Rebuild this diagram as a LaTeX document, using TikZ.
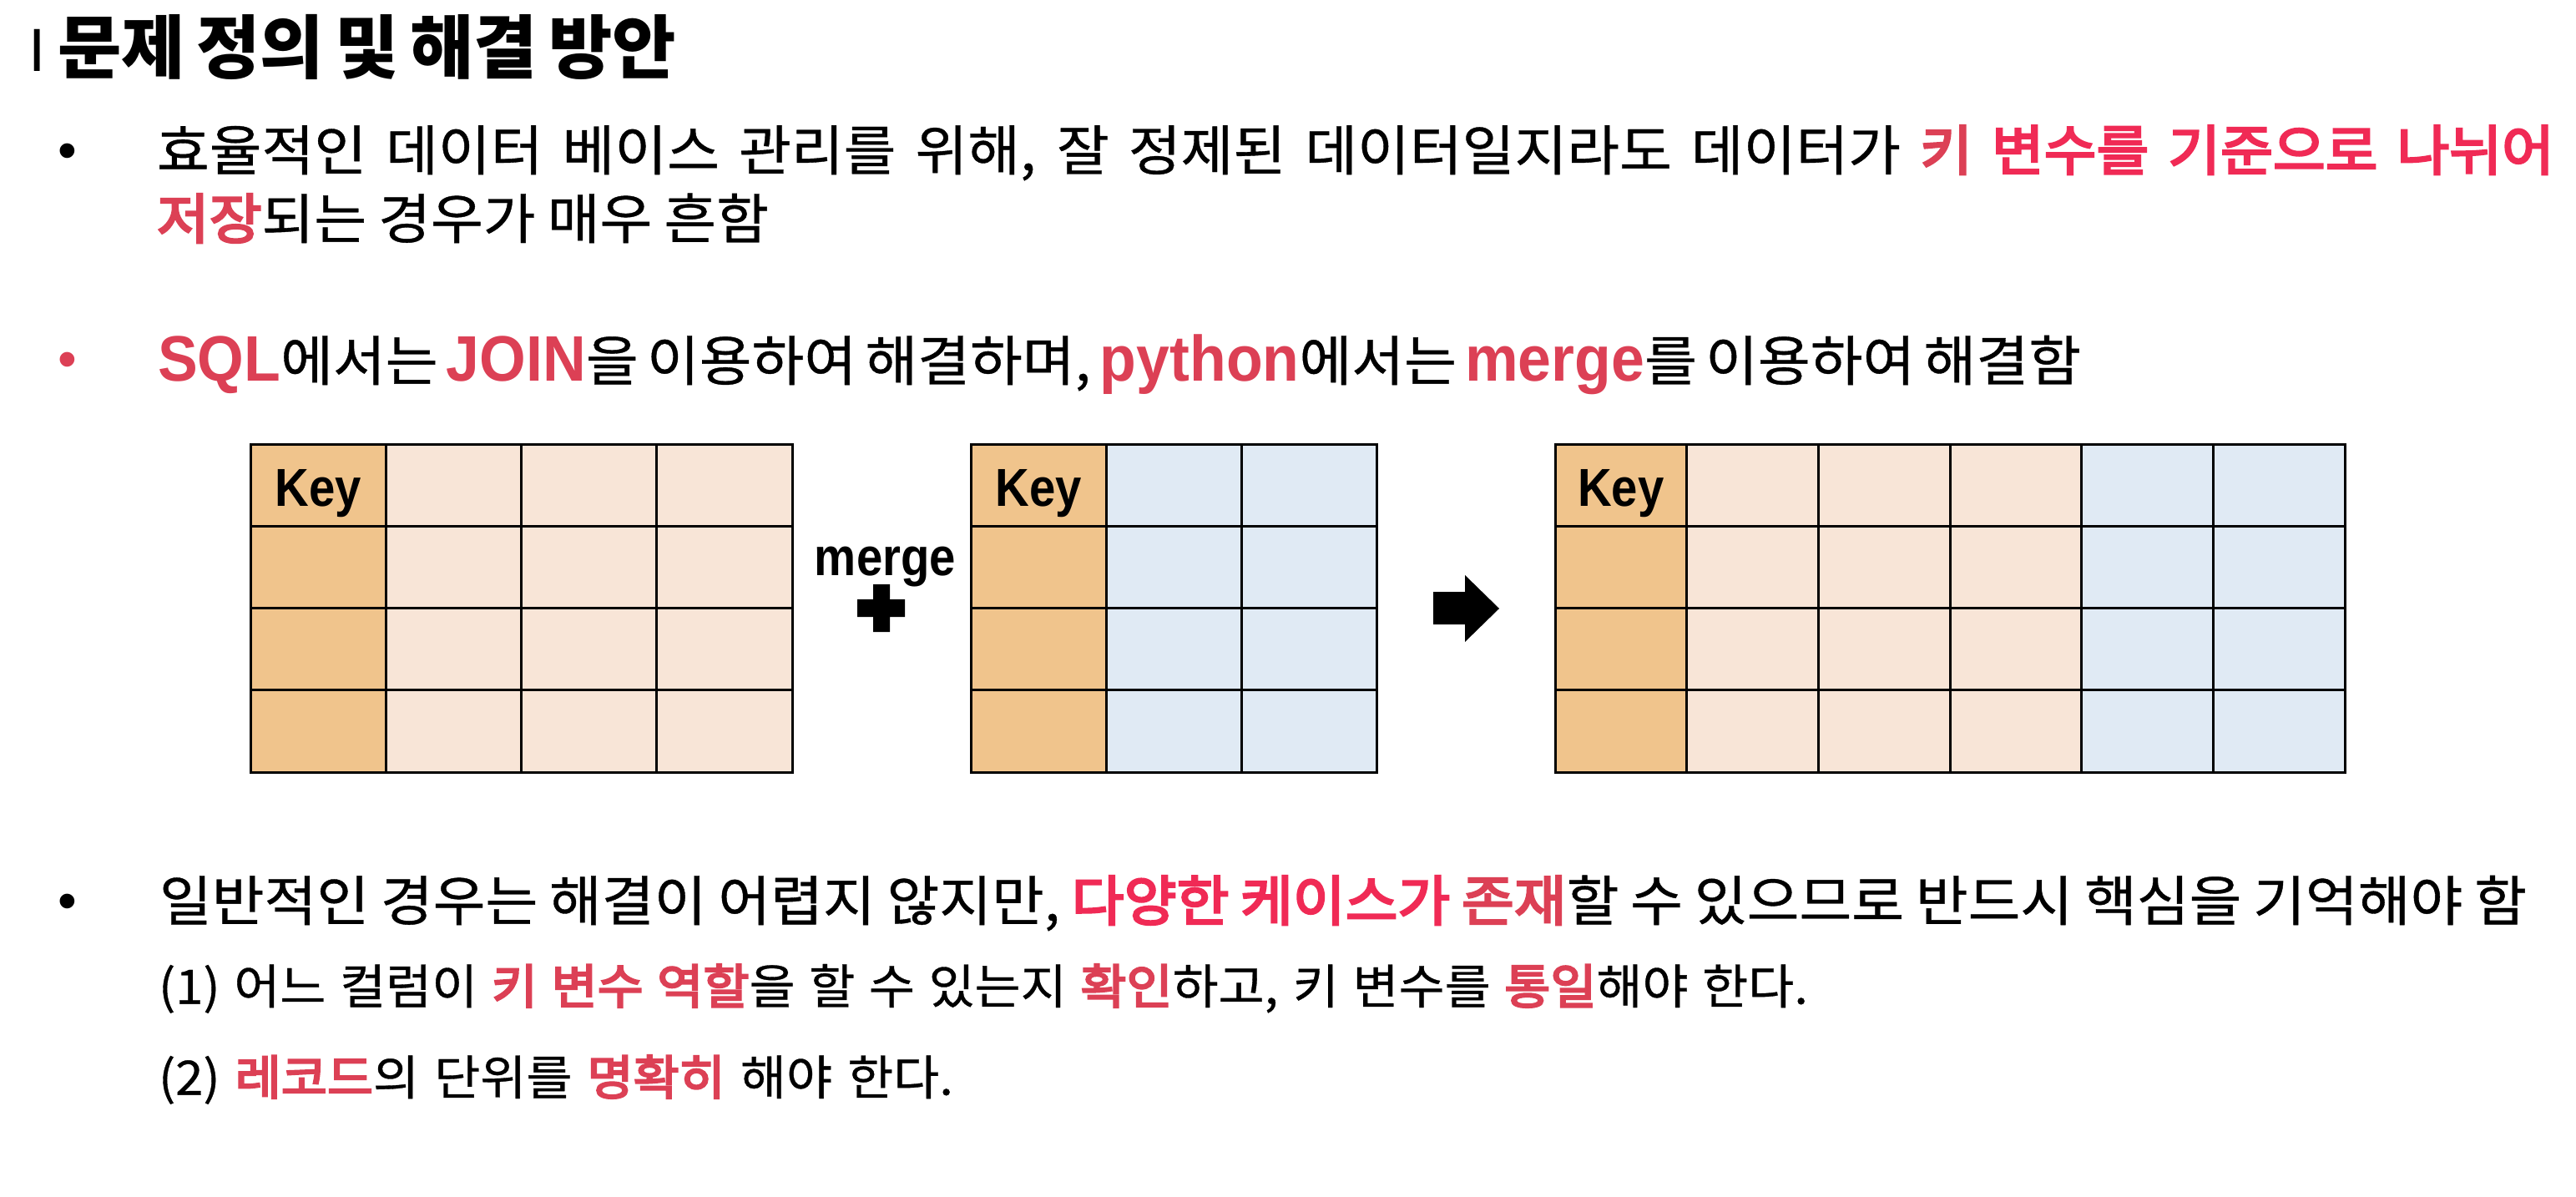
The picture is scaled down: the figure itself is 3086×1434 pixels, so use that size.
\documentclass[tikz,border=0pt]{standalone}
\usepackage{fontspec}
\newfontfamily\kr[FakeStretch=1.05, FakeBold=0.6]{Noto Sans CJK KR}
\newfontfamily\krred[FakeStretch=1.05, FakeBold=4]{Noto Sans CJK KR}
\newfontfamily\krtitle[FakeStretch=1.0]{Noto Sans CJK KR}
\newfontfamily\lat[FakeStretch=0.88]{Liberation Sans}
\newfontfamily\latw[FakeStretch=0.93]{Liberation Sans}
\newfontfamily\bul{Liberation Sans}
\definecolor{redA}{RGB}{220,64,85}
\definecolor{redB}{RGB}{240,42,85}
\definecolor{keyc}{RGB}{240,196,140}
\definecolor{peach}{RGB}{248,229,215}
\definecolor{bluec}{RGB}{224,234,244}
\newcommand\latred[1]{{\color{redA}\latw\bfseries\fontsize{77pt}{80pt}\selectfont #1}}
\newcommand\ra[1]{{\color{redA}\krred #1}}
\newcommand\rb[1]{{\color{redB}\krred #1}}
\tikzset{
  txt/.style={anchor=base west, inner sep=0pt, outer sep=0pt},
  bigtxt/.style={txt, font=\kr\fontsize{65pt}{70pt}\selectfont},
  smalltxt/.style={txt, font=\kr\fontsize{57pt}{62pt}\selectfont},
  bulletmark/.style={txt, font=\bul\fontsize{65pt}{70pt}\selectfont},
  keylabel/.style={anchor=base, inner sep=0pt, font=\lat\bfseries\fontsize{64pt}{70pt}\selectfont},
  gridline/.style={line width=3pt, black},
}
\begin{document}
\begin{tikzpicture}[x=1pt,y=-1pt]
\useasboundingbox (0,0) rectangle (3086,1434);
\fill[white] (0,0) rectangle (3086,1434);

% title
\node[anchor=base, inner sep=0pt, font=\bul\fontsize{73pt}{76pt}\selectfont] (tbar) at (44.5,86) {I};
\node[txt, font=\krtitle\bfseries\fontsize{83pt}{90pt}\selectfont] (title) at (69,88) {\makebox[741pt][s]{문제 정의 및 해결 방안}};

% bullet 1
\node[bulletmark] (dot1) at (69,203) {•};
\node[bigtxt] (b1a) at (188,204) {\makebox[2872pt][s]{효율적인 데이터 베이스 관리를 위해, 잘 정제된 데이터일지라도 데이터가 \ra{키} \rb{변수를 기준으로 나뉘어}}};
\node[bigtxt] (b1b) at (188,286) {\makebox[733pt][s]{\ra{저장}되는 경우가 매우 흔함}};

% bullet 2
\node[bulletmark, text=redA] (dot2) at (69,452) {•};
\node[bigtxt] (b2) at (189,456) {\makebox[2304pt][s]{\latred{SQL}에서는 \latred{JOIN}을 이용하여 해결하며, \latred{python}에서는 \latred{merge}를 이용하여 해결함}};

% tables
% table 1
\fill[keyc] (300,532) rectangle (462.25,925);
\fill[peach] (462.25,532) rectangle (949,925);
\foreach \i in {1,2,3} {\draw[gridline] ({300+\i*162.25},532) -- ({300+\i*162.25},925);}
\foreach \j in {1,2,3} {\draw[gridline] (300,{532+\j*98.25}) -- (949,{532+\j*98.25});}
\draw[gridline] (300,532) rectangle (949,925);
\node[keylabel] (k1) at (381,606) {Key};

% merge label and plus
\node[keylabel] (mlab) at (1060.5,689) {merge};
\fill (1046,700) -- (1066,700) -- (1066,718) -- (1084,718) -- (1084,739) -- (1066,739) -- (1066,757) -- (1046,757) -- (1046,739) -- (1027,739) -- (1027,718) -- (1046,718) -- cycle;

% table 2
\fill[keyc] (1163,532) rectangle (1325,925);
\fill[bluec] (1325,532) rectangle (1649,925);
\foreach \i in {1,2} {\draw[gridline] ({1163+\i*162},532) -- ({1163+\i*162},925);}
\foreach \j in {1,2,3} {\draw[gridline] (1163,{532+\j*98.25}) -- (1649,{532+\j*98.25});}
\draw[gridline] (1163,532) rectangle (1649,925);
\node[keylabel] (k2) at (1244,606) {Key};

% arrow
\fill (1717,709) -- (1755,709) -- (1755,689) -- (1796,729) -- (1755,769) -- (1755,748) -- (1717,748) -- cycle;

% table 3
\fill[keyc] (1863,532) rectangle (2020.67,925);
\fill[peach] (2020.67,532) rectangle (2494,925);
\fill[bluec] (2494,532) rectangle (2809,925);
\foreach \i in {1,...,5} {\draw[gridline] ({1863+\i*157.67},532) -- ({1863+\i*157.67},925);}
\foreach \j in {1,2,3} {\draw[gridline] (1863,{532+\j*98.25}) -- (2809,{532+\j*98.25});}
\draw[gridline] (1863,532) rectangle (2809,925);
\node[keylabel] (k3) at (1941.8,606) {Key};

% bullet 3
\node[bulletmark] (dot3) at (69,1101) {•};
\node[bigtxt] (b3) at (191,1103) {\makebox[2836pt][s]{일반적인 경우는 해결이 어렵지 않지만, \rb{다양한 케이스가} \ra{존재}할 수 있으므로 반드시 핵심을 기억해야 함}};
\node[smalltxt] (s1) at (190,1202.6) {\makebox[1976pt][s]{(1) 어느 컬럼이 \ra{키 변수 역할}을 할 수 있는지 \ra{확인}하고, 키 변수를 \ra{통일}해야 한다.}};
\node[smalltxt] (s2) at (190,1311.6) {\makebox[952pt][s]{(2) \ra{레코드}의 단위를 \ra{명확히} 해야 한다.}};
\end{tikzpicture}
\end{document}
